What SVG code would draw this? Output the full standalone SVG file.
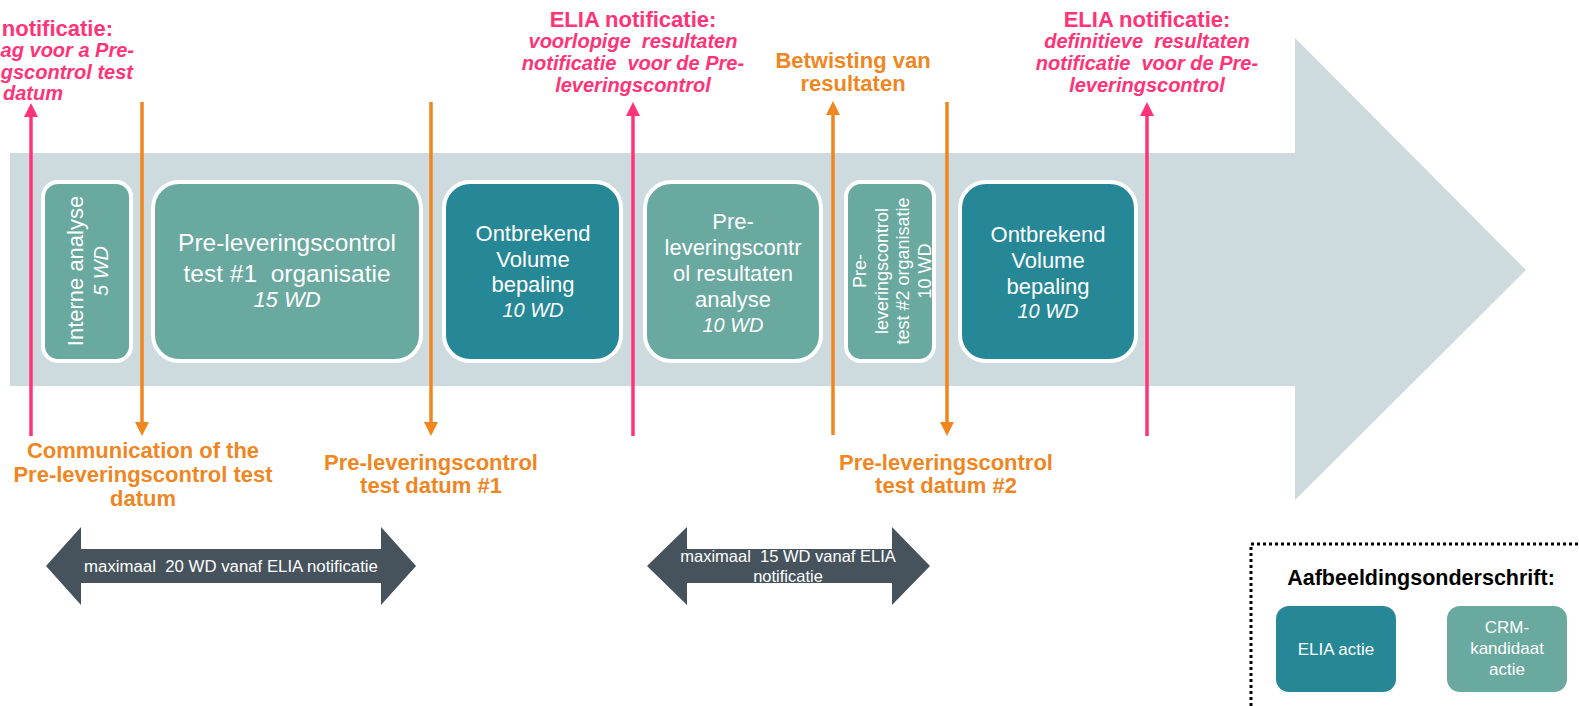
<svg xmlns="http://www.w3.org/2000/svg" width="1579" height="706" viewBox="0 0 1579 706">
<defs>
<style>
text{font-family:"Liberation Sans",Arial,sans-serif}
.crm{fill:#69A99F;stroke:#FFFFFF;stroke-width:4}
.elia{fill:#268896;stroke:#FFFFFF;stroke-width:4}
.bt{fill:#FFFFFF;font-size:22px;text-anchor:middle}
.it{font-style:italic}
.pk{fill:#FF3377;font-weight:bold;text-anchor:middle}
.or{fill:#F0861F;font-weight:bold;text-anchor:middle;font-size:22px}
.lp{stroke:#FF3377;stroke-width:3.5;fill:none}
.lo{stroke:#F0861F;stroke-width:3.5;fill:none}
.dbl{fill:#46535C}
.dt{fill:#FFFFFF;font-size:16.5px;text-anchor:middle}
</style>
<marker id="mp" viewBox="0 0 14 14" refX="3" refY="7" markerWidth="14" markerHeight="14" markerUnits="userSpaceOnUse" orient="auto"><path d="M0,0 L14,7 L0,14 z" fill="#FF3377"/></marker>
<marker id="mo" viewBox="0 0 14 14" refX="3" refY="7" markerWidth="14" markerHeight="14" markerUnits="userSpaceOnUse" orient="auto"><path d="M0,0 L14,7 L0,14 z" fill="#F0861F"/></marker>
</defs>
<rect width="1579" height="706" fill="#FFFFFF"/>
<polygon id="timeline" points="10,153 1295,153 1295,38 1526,270 1295,500 1295,386 10,386" fill="#CDDADE"/>

<g id="n1"><rect class="crm" x="43" y="182" width="88" height="179" rx="15"/>
<g transform="translate(83,271) rotate(-90)"><text class="bt" x="0" y="0">Interne analyse</text><text class="bt it" x="0" y="25" style="font-size:20px">5 WD</text></g></g>

<g id="n2"><rect class="crm" x="153" y="182" width="268" height="179" rx="26"/>
<text class="bt" x="287" y="251" style="font-size:24.5px">Pre-leveringscontrol</text>
<text class="bt" x="287" y="282" style="font-size:24.5px" xml:space="preserve">test #1  organisatie</text>
<text class="bt it" x="287" y="307">15 WD</text></g>

<g id="n3"><rect class="elia" x="444" y="182" width="177" height="179" rx="26"/>
<text class="bt" x="533" y="241">Ontbrekend</text>
<text class="bt" x="533" y="267">Volume</text>
<text class="bt" x="533" y="292">bepaling</text>
<text class="bt it" x="533" y="317" style="font-size:20px">10 WD</text></g>

<g id="n4"><rect class="crm" x="645" y="182" width="176" height="179" rx="26"/>
<text class="bt" x="733" y="229">Pre-</text>
<text class="bt" x="733" y="255">leveringscontr</text>
<text class="bt" x="733" y="281">ol resultaten</text>
<text class="bt" x="733" y="307">analyse</text>
<text class="bt it" x="733" y="332" style="font-size:20px">10 WD</text></g>

<g id="n5"><rect class="crm" x="846" y="182" width="88" height="179" rx="15"/>
<g transform="translate(866,271) rotate(-90)"><text class="bt" style="font-size:18px" x="0" y="0">Pre-</text><text class="bt" style="font-size:18px" x="0" y="21.5">leveringscontrol</text><text class="bt" style="font-size:18px" x="0" y="43">test #2 organisatie</text><text class="bt" style="font-size:18px" x="0" y="64.5">10 WD</text></g></g>

<g id="n6"><rect class="elia" x="960" y="182" width="176" height="179" rx="26"/>
<text class="bt" x="1048" y="242">Ontbrekend</text>
<text class="bt" x="1048" y="268">Volume</text>
<text class="bt" x="1048" y="294">bepaling</text>
<text class="bt it" x="1048" y="318" style="font-size:20px">10 WD</text></g>

<g id="connectors">
<line class="lp" x1="31" y1="436" x2="31" y2="114" marker-end="url(#mp)"/>
<line class="lo" x1="142" y1="102" x2="142" y2="425" marker-end="url(#mo)"/>
<line class="lo" x1="431" y1="102" x2="431" y2="425" marker-end="url(#mo)"/>
<line class="lp" x1="633" y1="436" x2="633" y2="113" marker-end="url(#mp)"/>
<line class="lo" x1="833" y1="435" x2="833" y2="112" marker-end="url(#mo)"/>
<line class="lo" x1="947" y1="102" x2="947" y2="425" marker-end="url(#mo)"/>
<line class="lp" x1="1147" y1="436" x2="1147" y2="113" marker-end="url(#mp)"/>
</g>

<g id="lbl1">
<text class="pk" font-size="22" style="text-anchor:end" x="113" y="36">notificatie:</text>
<text class="pk it" font-size="20" style="text-anchor:end" x="134" y="57">ag voor a Pre-</text>
<text class="pk it" font-size="20" style="text-anchor:end" x="133" y="79">gscontrol test</text>
<text class="pk it" font-size="20" style="text-anchor:start" x="3" y="100">datum</text>
</g>
<g id="lbl2">
<text class="pk" font-size="22" x="633" y="27">ELIA notificatie:</text>
<text class="pk it" font-size="20" x="633" y="48" xml:space="preserve">voorlopige  resultaten</text>
<text class="pk it" font-size="20" x="633" y="70" xml:space="preserve">notificatie  voor de Pre-</text>
<text class="pk it" font-size="20" x="633" y="92">leveringscontrol</text>
</g>
<g id="lbl3">
<text class="or" x="853" y="68">Betwisting van</text>
<text class="or" x="853" y="91">resultaten</text>
</g>
<g id="lbl4">
<text class="pk" font-size="22" x="1147" y="27">ELIA notificatie:</text>
<text class="pk it" font-size="20" x="1147" y="48" xml:space="preserve">definitieve  resultaten</text>
<text class="pk it" font-size="20" x="1147" y="70" xml:space="preserve">notificatie  voor de Pre-</text>
<text class="pk it" font-size="20" x="1147" y="92">leveringscontrol</text>
</g>
<g id="lbl5">
<text class="or" x="143" y="458">Communication of the</text>
<text class="or" x="143" y="482">Pre-leveringscontrol test</text>
<text class="or" x="143" y="506">datum</text>
</g>
<g id="lbl6">
<text class="or" x="431" y="470">Pre-leveringscontrol</text>
<text class="or" x="431" y="493">test datum #1</text>
</g>
<g id="lbl7">
<text class="or" x="946" y="470">Pre-leveringscontrol</text>
<text class="or" x="946" y="493">test datum #2</text>
</g>

<g id="span1">
<polygon class="dbl" points="46,566 81,527 81,549 381,549 381,527 416,566 381,605 381,583 81,583 81,605"/>
<text class="dt" x="231" y="572" style="font-size:16.8px" xml:space="preserve">maximaal  20 WD vanaf ELIA notificatie</text>
</g>
<g id="span2">
<polygon class="dbl" points="647,566 687,527 687,549 892,549 892,527 930,566 892,605 892,583 687,583 687,605"/>
<text class="dt" x="788" y="562" xml:space="preserve">maximaal  15 WD vanaf ELIA</text>
<text class="dt" x="788" y="582">notificatie</text>
</g>

<g id="legend">
<path d="M1251,706 L1251,544 L1579,544" fill="none" stroke="#000000" stroke-width="3" stroke-dasharray="3,3"/>
<text x="1421" y="585" font-size="21.5" font-weight="bold" text-anchor="middle" fill="#000000">Aafbeeldingsonderschrift:</text>
<rect x="1276" y="606" width="120" height="86" rx="13" fill="#268896"/>
<text x="1336" y="655" font-size="17" text-anchor="middle" fill="#FFFFFF">ELIA actie</text>
<rect x="1447" y="606" width="120" height="86" rx="13" fill="#69A99F"/>
<text x="1507" y="633" font-size="17" text-anchor="middle" fill="#FFFFFF">CRM-</text>
<text x="1507" y="654" font-size="17" text-anchor="middle" fill="#FFFFFF">kandidaat</text>
<text x="1507" y="675" font-size="17" text-anchor="middle" fill="#FFFFFF">actie</text>
</g>
</svg>
